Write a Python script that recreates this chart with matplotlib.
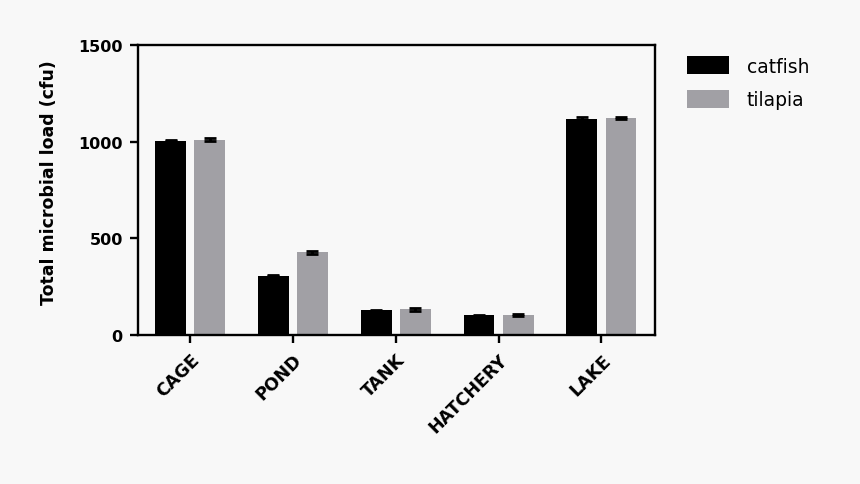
import numpy as np
import matplotlib
matplotlib.use("Agg")
import matplotlib.pyplot as plt
from matplotlib.patches import Patch

# donnees
sites = ["CAGE", "POND", "TANK", "HATCHERY", "LAKE"]
catfish = [1005, 307, 129, 103, 1120]
catfish_err = [2, 2, 2, 2, 10]
tilapia = [1011, 428, 133, 104, 1124]
tilapia_err = [6, 6, 6, 6, 6]
y_ticks = [0, 500, 1000, 1500]

bg = "#f8f8f8"
grey = "#a1a0a5"

fig = plt.figure(figsize=(8.6, 4.85), dpi=100, facecolor=bg)
ax = fig.add_axes([0.1605, 0.307, 0.601, 0.598], facecolor=bg)

x = np.arange(len(sites))
w = 0.30
off = 0.19

ax.bar(x - off, catfish, w, color="black", zorder=2)
ax.bar(x + off, tilapia, w, color=grey, zorder=2)
ax.errorbar(x - off, catfish, yerr=catfish_err, fmt="none", ecolor="black",
            elinewidth=2, capsize=4.6, capthick=2, zorder=3)
ax.errorbar(x + off, tilapia, yerr=tilapia_err, fmt="none", ecolor="black",
            elinewidth=2, capsize=4.6, capthick=2, zorder=3)

ax.set_xlim(-0.506, 4.52)
ax.set_ylim(0, 1500)
ax.set_yticks(y_ticks)
ax.set_yticklabels([str(v) for v in y_ticks], fontsize=11.5, fontweight="bold")
ax.set_xticks(x)
ax.set_xticklabels(sites, rotation=45, ha="right", rotation_mode="anchor",
                   fontsize=12.5, fontweight="bold")

for s in ax.spines.values():
    s.set_linewidth(1.7)
ax.tick_params(axis="both", direction="out", length=6, width=1.7, pad=5)
ax.set_ylabel("Total microbial load (cfu)", fontsize=12.5, fontweight="bold")
ax.yaxis.set_label_coords(-0.155, 0.53)

handles = [Patch(facecolor="black", label="catfish"),
           Patch(facecolor=grey, label="tilapia")]
fig.legend(handles=handles, loc="upper left", bbox_to_anchor=(0.779, 0.917),
           frameon=False, fontsize=13.5, handlelength=2.24, handleheight=1.1,
           handletextpad=0.96, labelspacing=0.75)

fig.savefig("out.png", dpi=100, facecolor=bg)
